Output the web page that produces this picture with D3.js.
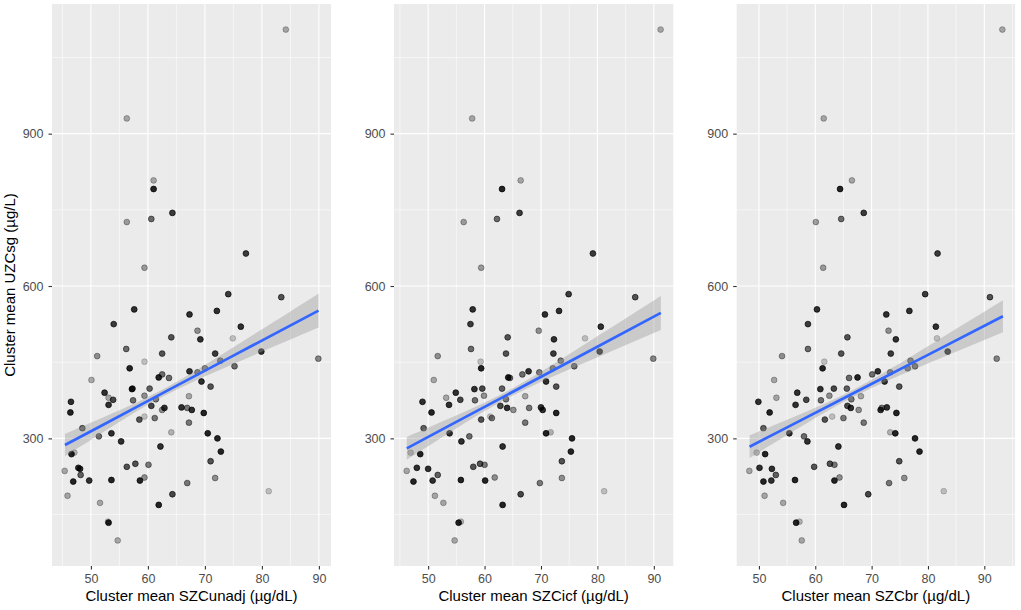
<!DOCTYPE html>
<html>
<head>
<meta charset="utf-8">
<script src="https://cdn.jsdelivr.net/npm/d3@7"></script>
<style>
body { margin: 0; background: #fff; }
text { font-family: "Liberation Sans", Arial, sans-serif; }
</style>
</head>
<body>
<script>
// cluster means, one entry per cluster (same order in every array)
var uzcsg = [1105, 930, 808, 791, 744, 732, 726, 664, 636, 584, 578, 554, 551, 544, 525, 520, 512, 497, 495, 499,
    476, 462, 467, 467, 471, 457, 451, 453, 442, 438, 432, 430, 438, 426, 420, 419, 415, 412, 397, 398,
    398, 390, 402, 372, 380, 376, 375, 384, 377, 366, 364, 351, 360, 356, 361, 360, 356, 383, 350, 343,
    337, 340, 331, 320, 310, 304, 312, 310, 300, 294, 284, 269, 272, 274, 236, 242, 240, 228, 215, 217,
    244, 250, 248, 223, 217, 218, 255, 212, 222, 190, 187, 173, 169, 196, 134, 136, 99];

var szcUnadj = [84.2, 56.3, 61.0, 61.0, 64.3, 60.6, 56.3, 77.2, 59.4, 74.1, 83.4, 57.6, 72.1, 67.3, 54.0, 76.3, 68.7, 74.9, 69.2, 64.1,
    56.2, 51.1, 62.5, 71.8, 79.9, 89.9, 59.4, 72.7, 75.2, 56.8, 67.3, 68.7, 70.0, 62.5, 61.9, 63.7, 50.1, 69.4, 57.2, 57.3,
    60.3, 52.4, 71.0, 46.5, 53.1, 53.9, 57.4, 59.4, 61.4, 53.1, 60.6, 46.4, 62.9, 62.5, 65.9, 66.9, 67.7, 67.2, 69.8, 59.4,
    58.5, 61.2, 67.2, 48.5, 53.6, 51.4, 64.1, 70.5, 72.2, 55.3, 62.2, 46.6, 47.1, 72.8, 45.4, 47.8, 48.1, 48.2, 46.9, 49.7,
    56.3, 57.8, 60.1, 59.4, 58.6, 53.6, 71.0, 66.9, 71.8, 64.3, 45.9, 51.6, 61.9, 81.2, 53.1, 53.0, 54.7];

var szcIcf = [91.2, 57.8, 66.4, 63.1, 66.2, 62.2, 56.3, 79.2, 59.4, 74.9, 86.7, 57.9, 73.2, 70.7, 57.5, 80.6, 69.6, 77.8, 72.3, 64.1,
    57.6, 51.7, 63.8, 72.2, 80.4, 89.9, 59.3, 73.5, 75.9, 59.4, 67.8, 69.7, 72.1, 66.7, 64.2, 64.5, 51.0, 70.9, 58.2, 59.6,
    63.1, 54.9, 72.7, 49.0, 53.2, 55.7, 58.3, 59.9, 63.8, 53.7, 62.8, 50.6, 64.0, 65.1, 70.0, 67.9, 70.3, 67.2, 72.7, 61.0,
    59.4, 61.3, 67.2, 49.2, 53.8, 57.3, 71.7, 70.9, 75.5, 55.9, 63.2, 48.6, 46.9, 75.3, 46.2, 48.0, 50.0, 51.7, 47.4, 50.8,
    58.0, 59.2, 60.0, 61.8, 60.1, 55.8, 73.7, 69.8, 73.7, 66.4, 51.2, 52.7, 63.2, 81.2, 55.4, 55.8, 54.7];

var szcBr = [93.2, 61.5, 66.5, 64.4, 68.6, 64.6, 60.1, 81.7, 61.4, 79.5, 91.0, 60.3, 76.7, 72.6, 58.7, 81.4, 73.0, 81.6, 74.3, 65.7,
    58.7, 54.1, 64.6, 73.4, 83.5, 92.2, 61.6, 76.9, 77.7, 61.3, 71.1, 73.3, 76.4, 70.1, 67.5, 66.0, 52.7, 72.3, 60.9, 63.3,
    65.6, 56.8, 74.9, 49.9, 53.1, 58.4, 61.0, 62.5, 66.4, 56.5, 65.7, 51.9, 66.3, 67.7, 72.7, 71.8, 71.6, 68.1, 74.4, 63.0,
    61.7, 65.0, 68.6, 50.8, 55.4, 58.0, 73.3, 74.2, 77.7, 58.6, 64.1, 51.1, 49.6, 78.5, 48.3, 50.1, 52.3, 53.0, 50.8, 52.2,
    59.8, 62.6, 63.4, 64.3, 63.4, 56.4, 74.9, 73.1, 75.8, 69.4, 51.0, 54.3, 65.1, 82.8, 56.6, 57.2, 57.6];

// point transparency
var pointAlpha = [0.3, 0.3, 0.3, 0.85, 0.75, 0.55, 0.35, 0.75, 0.35, 0.75, 0.65, 0.8, 0.8, 0.8, 0.75, 0.8, 0.4, 0.2, 0.8, 0.65,
    0.55, 0.4, 0.65, 0.75, 0.8, 0.45, 0.2, 0.5, 0.55, 0.85, 0.8, 0.5, 0.5, 0.55, 0.85, 0.55, 0.3, 0.8, 0.8, 0.7,
    0.6, 0.8, 0.65, 0.8, 0.3, 0.7, 0.55, 0.4, 0.5, 0.8, 0.7, 0.85, 0.8, 0.4, 0.8, 0.5, 0.8, 0.3, 0.85, 0.2,
    0.65, 0.5, 0.5, 0.6, 0.8, 0.55, 0.25, 0.85, 0.85, 0.8, 0.8, 0.85, 0.25, 0.85, 0.3, 0.8, 0.8, 0.6, 0.85, 0.8,
    0.65, 0.65, 0.5, 0.4, 0.85, 0.85, 0.65, 0.5, 0.4, 0.7, 0.3, 0.3, 0.85, 0.2, 0.85, 0.25, 0.3];

// linear fit and 95% band at a few x positions per panel
var fitX = [[45.45, 52, 62.5, 75, 89.93], [46.22, 53, 64, 77, 91.24], [48.34, 55, 66.5, 80, 93.3]];
var fitY = [[286.9, 325.9, 388.5, 463.0, 551.6], [280.4, 320.6, 385.7, 462.7, 547.0], [283.5, 321.6, 387.3, 464.4, 540.4]];
var fitLo = [[265.0, 311.2, 381.3, 446.5, 518.2], [258.1, 305.7, 378.5, 445.5, 513.6], [261.3, 306.4, 380.1, 447.5, 509.0]];
var fitHi = [[308.8, 340.6, 395.7, 479.5, 585.0], [302.7, 335.5, 392.9, 479.9, 580.4], [305.7, 336.8, 394.5, 481.3, 571.8]];

var xTicks = [50, 60, 70, 80, 90];
var yTicks = [300, 600, 900];
var xTitles = ['Cluster mean SZCunadj (\u00b5g/dL)', 'Cluster mean SZCicf (\u00b5g/dL)', 'Cluster mean SZCbr (\u00b5g/dL)'];
var yTitle = 'Cluster mean UZCsg (\u00b5g/L)';

(function() {
    var w = 1021, h = 610;
    var panelTop = 4, panelBottom = 566;
    var panelX = [[52, 331], [394, 673.3], [736.7, 1015]];
    var xSeries = [szcUnadj, szcIcf, szcBr];

    var svg = d3.select('body')
        .append('svg')
        .attr('width', w)
        .attr('height', h);

    // ggplot-like 5% expansion
    function expand(ext) {
        var pad = (ext[1] - ext[0]) * 0.05;
        return [ext[0] - pad, ext[1] + pad];
    }

    function minors(ticks, dom) {
        var step = ticks[1] - ticks[0];
        var out = [];
        for (var v = ticks[0] - step / 2; v <= ticks[ticks.length - 1] + step / 2; v += step) {
            if (v >= dom[0] && v <= dom[1]) out.push(v);
        }
        return out;
    }

    var y = d3.scaleLinear()
        .domain(expand(d3.extent(uzcsg)))
        .range([panelBottom, panelTop]);

    xSeries.forEach(function(xs, p) {
        var x = d3.scaleLinear()
            .domain(expand(d3.extent(xs)))
            .range(panelX[p]);

        var g = svg.append('g').attr('class', 'panel');

        g.append('rect')
            .attr('x', panelX[p][0])
            .attr('y', panelTop)
            .attr('width', panelX[p][1] - panelX[p][0])
            .attr('height', panelBottom - panelTop)
            .style('fill', '#EBEBEB');

        // grid
        g.selectAll('.xminor')
            .data(minors(xTicks, x.domain()))
            .enter().append('line')
            .attr('x1', function(d) { return x(d); })
            .attr('x2', function(d) { return x(d); })
            .attr('y1', panelTop).attr('y2', panelBottom)
            .style('stroke', '#fff').style('stroke-width', 0.55);
        g.selectAll('.yminor')
            .data(minors(yTicks, y.domain()))
            .enter().append('line')
            .attr('x1', panelX[p][0]).attr('x2', panelX[p][1])
            .attr('y1', function(d) { return y(d); })
            .attr('y2', function(d) { return y(d); })
            .style('stroke', '#fff').style('stroke-width', 0.55);
        g.selectAll('.xmajor')
            .data(xTicks)
            .enter().append('line')
            .attr('x1', function(d) { return x(d); })
            .attr('x2', function(d) { return x(d); })
            .attr('y1', panelTop).attr('y2', panelBottom)
            .style('stroke', '#fff').style('stroke-width', 1.1);
        g.selectAll('.ymajor')
            .data(yTicks)
            .enter().append('line')
            .attr('x1', panelX[p][0]).attr('x2', panelX[p][1])
            .attr('y1', function(d) { return y(d); })
            .attr('y2', function(d) { return y(d); })
            .style('stroke', '#fff').style('stroke-width', 1.1);

        // points
        g.selectAll('.pt')
            .data(uzcsg)
            .enter().append('circle')
            .attr('class', 'pt')
            .attr('cx', function(d, i) { return x(xs[i]); })
            .attr('cy', function(d) { return y(d); })
            .attr('r', 2.9)
            .style('fill', '#000')
            .style('fill-opacity', function(d, i) { return pointAlpha[i]; })
            .style('stroke', '#000')
            .style('stroke-opacity', function(d, i) { return pointAlpha[i]; })
            .style('stroke-width', 0.9);

        // smooth: band then line
        var band = fitX[p].map(function(v, k) {
            return { x: v, fit: fitY[p][k], lo: fitLo[p][k], hi: fitHi[p][k] };
        });

        g.append('path')
            .datum(band)
            .attr('d', d3.area()
                .curve(d3.curveNatural)
                .x(function(d) { return x(d.x); })
                .y0(function(d) { return y(d.lo); })
                .y1(function(d) { return y(d.hi); }))
            .style('fill', '#999999')
            .style('fill-opacity', 0.4);

        g.append('path')
            .datum(band)
            .attr('d', d3.line()
                .x(function(d) { return x(d.x); })
                .y(function(d) { return y(d.fit); }))
            .style('fill', 'none')
            .style('stroke', '#3366FF')
            .style('stroke-width', 2.7);

        // axes
        var xAxis = g.append('g')
            .attr('transform', 'translate(0,' + panelBottom + ')')
            .call(d3.axisBottom(x).tickValues(xTicks).tickSize(3.5).tickPadding(5));
        var yAxis = g.append('g')
            .attr('transform', 'translate(' + panelX[p][0] + ',0)')
            .call(d3.axisLeft(y).tickValues(yTicks).tickSize(3.5).tickPadding(5));

        [xAxis, yAxis].forEach(function(ax) {
            ax.select('.domain').remove();
            ax.selectAll('line').style('stroke', '#333').style('stroke-width', 1.1);
            ax.selectAll('text')
                .style('font-family', '"Liberation Sans", Arial, sans-serif')
                .style('font-size', '12.5px')
                .style('fill', '#4D4D4D');
        });

        g.append('text')
            .attr('x', (panelX[p][0] + panelX[p][1]) / 2)
            .attr('y', 601)
            .attr('text-anchor', 'middle')
            .style('font-size', '15px')
            .style('fill', '#000')
            .text(xTitles[p]);
    });

    svg.append('text')
        .attr('transform', 'translate(14.5,' + ((panelTop + panelBottom) / 2) + ') rotate(-90)')
        .attr('text-anchor', 'middle')
        .style('font-size', '15px')
        .style('fill', '#000')
        .text(yTitle);
})();
</script>
</body>
</html>
